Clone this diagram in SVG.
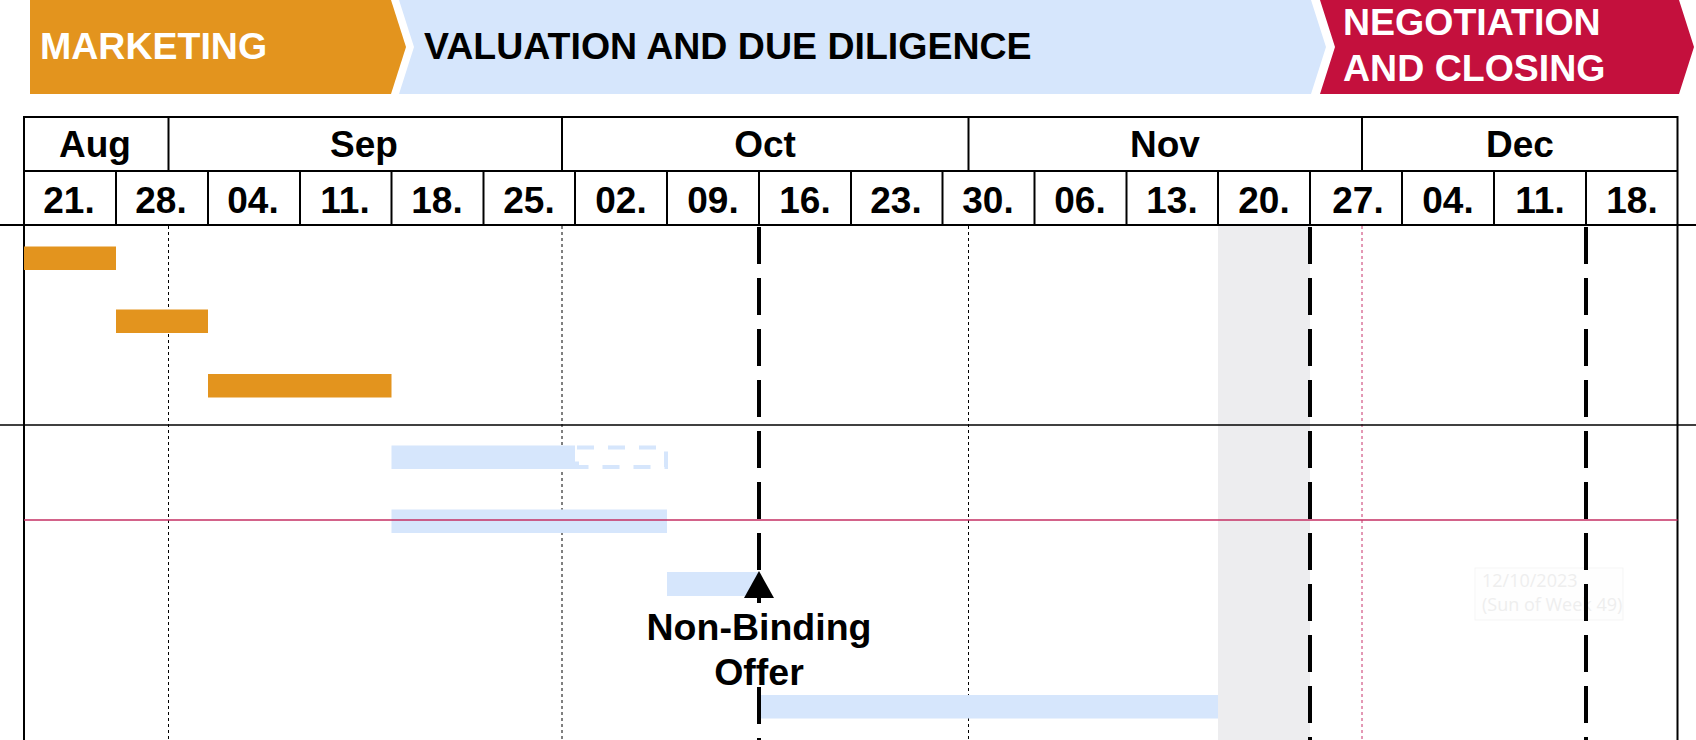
<svg xmlns="http://www.w3.org/2000/svg" width="1696" height="740" viewBox="0 0 1696 740">
<style>
.ph{font-family:"Liberation Sans",Arial,sans-serif;font-weight:bold;font-size:37.5px}
.hd{font-family:"Liberation Sans",Arial,sans-serif;font-weight:bold;font-size:37px;text-anchor:middle;fill:#000}
.lb{font-family:"Liberation Sans",Arial,sans-serif;font-weight:bold;font-size:37.5px;text-anchor:middle;fill:#000}
.ln{stroke:#000;stroke-width:2;fill:none}
.thin{stroke:#000;stroke-width:1.5;fill:none}
.dot{stroke:#000;stroke-width:1;stroke-dasharray:3 3;fill:none}
.pdot{stroke:#C8336A;stroke-width:1;stroke-dasharray:3 3;fill:none}
.mile{stroke:#000;stroke-width:4;stroke-dasharray:37 14;fill:none}
.or{fill:#E3941E}
.bl{fill:#D6E6FC}
.tip{font-family:"Open Sans","Liberation Sans",sans-serif;font-size:18px;fill:#EEEEEE}
</style>
<rect width="1696" height="740" fill="#fff"/>

<!-- phases -->
<g id="phase-marketing">
<polygon class="or" points="30,0 391,0 406,47 391,94 30,94"/>
<text class="ph" x="40" y="59" fill="#fff">MARKETING</text>
</g>
<g id="phase-valuation">
<polygon class="bl" points="399,0 1311,0 1326,47 1311,94 399,94 414,47"/>
<text class="ph" x="424" y="59" fill="#000">VALUATION AND DUE DILIGENCE</text>
</g>
<g id="phase-negotiation">
<polygon fill="#C4103D" points="1320,0 1679,0 1694,47 1679,94 1320,94 1335,47"/>
<text class="ph" x="1343" y="35" fill="#fff">NEGOTIATION</text>
<text class="ph" x="1343" y="81" fill="#fff">AND CLOSING</text>
</g>

<!-- background highlight column -->
<rect id="highlight-week" x="1218" y="226" width="92" height="514" fill="#EDEDEF"/>

<!-- month boundary guides -->
<g id="guides">
<line class="dot" x1="168.5" y1="226" x2="168.5" y2="740"/>
<line class="dot" x1="562" y1="226" x2="562" y2="740"/>
<line class="dot" x1="968.5" y1="226" x2="968.5" y2="740"/>
<line class="pdot" x1="1362" y1="226" x2="1362" y2="740"/>
</g>

<!-- header table -->
<g id="header">
<line class="ln" x1="24" y1="117" x2="1677.5" y2="117"/>
<line class="ln" x1="24" y1="171" x2="1677.5" y2="171"/>
<line class="ln" x1="0" y1="225" x2="1696" y2="225"/>
<line class="ln" x1="24" y1="116" x2="24" y2="740"/>
<line class="ln" x1="1677.5" y1="116" x2="1677.5" y2="740"/>
<line class="ln" x1="168.5" y1="117" x2="168.5" y2="171"/>
<line class="ln" x1="562" y1="117" x2="562" y2="171"/>
<line class="ln" x1="968.5" y1="117" x2="968.5" y2="171"/>
<line class="ln" x1="1362" y1="117" x2="1362" y2="171"/>
<text class="hd" x="95" y="157">Aug</text>
<text class="hd" x="364" y="157">Sep</text>
<text class="hd" x="765" y="157">Oct</text>
<text class="hd" x="1165" y="157">Nov</text>
<text class="hd" x="1520" y="157">Dec</text>
<g class="ln">
<line x1="116" y1="171" x2="116" y2="225"/>
<line x1="208" y1="171" x2="208" y2="225"/>
<line x1="300" y1="171" x2="300" y2="225"/>
<line x1="391.5" y1="171" x2="391.5" y2="225"/>
<line x1="483.5" y1="171" x2="483.5" y2="225"/>
<line x1="575" y1="171" x2="575" y2="225"/>
<line x1="667" y1="171" x2="667" y2="225"/>
<line x1="759" y1="171" x2="759" y2="225"/>
<line x1="851" y1="171" x2="851" y2="225"/>
<line x1="942.5" y1="171" x2="942.5" y2="225"/>
<line x1="1034.5" y1="171" x2="1034.5" y2="225"/>
<line x1="1126.5" y1="171" x2="1126.5" y2="225"/>
<line x1="1218" y1="171" x2="1218" y2="225"/>
<line x1="1310" y1="171" x2="1310" y2="225"/>
<line x1="1402" y1="171" x2="1402" y2="225"/>
<line x1="1494" y1="171" x2="1494" y2="225"/>
<line x1="1586" y1="171" x2="1586" y2="225"/>
</g>
<text class="hd" x="69" y="213">21.</text>
<text class="hd" x="161" y="213">28.</text>
<text class="hd" x="253" y="213">04.</text>
<text class="hd" x="345" y="213">11.</text>
<text class="hd" x="437" y="213">18.</text>
<text class="hd" x="529" y="213">25.</text>
<text class="hd" x="621" y="213">02.</text>
<text class="hd" x="713" y="213">09.</text>
<text class="hd" x="805" y="213">16.</text>
<text class="hd" x="896" y="213">23.</text>
<text class="hd" x="988" y="213">30.</text>
<text class="hd" x="1080" y="213">06.</text>
<text class="hd" x="1172" y="213">13.</text>
<text class="hd" x="1264" y="213">20.</text>
<text class="hd" x="1358" y="213">27.</text>
<text class="hd" x="1448" y="213">04.</text>
<text class="hd" x="1540" y="213">11.</text>
<text class="hd" x="1632" y="213">18.</text>
<text class="hd" x="1722" y="213">25.</text>
</g>

<!-- section separators -->
<line id="section-line" class="thin" x1="0" y1="425" x2="1696" y2="425"/>

<!-- tasks -->
<g id="task-1"><rect class="or" x="24" y="246.5" width="92" height="23.5"/></g>
<g id="task-2"><rect class="or" x="116" y="309.5" width="92" height="23.5"/></g>
<g id="task-3"><rect class="or" x="208" y="374" width="183.5" height="23.5"/></g>
<g id="task-4">
<rect class="bl" x="391.5" y="445.5" width="183.5" height="23.5"/>
<rect x="577" y="447.5" width="89" height="19.5" fill="none" stroke="#D6E6FC" stroke-width="4" stroke-dasharray="17 14"/>
</g>
<g id="task-5"><rect class="bl" x="391.5" y="509.5" width="275.5" height="23.5"/></g>
<g id="task-6"><rect class="bl" x="667" y="572" width="92" height="24"/></g>
<g id="task-7"><rect class="bl" x="759" y="695" width="459" height="23.5"/></g>

<!-- tooltip ghost -->
<g id="tooltip">
<rect x="1475" y="568" width="148" height="52" fill="#FEFEFE" stroke="#F5F5F5" stroke-width="1"/>
<text class="tip" x="1482" y="587">12/10/2023</text>
<text class="tip" x="1482" y="611">(Sun of Week 49)</text>
</g>

<!-- milestone lines -->
<g id="connectors">
<line class="mile" x1="759" y1="227" x2="759" y2="572"/>
<line class="mile" x1="759" y1="687" x2="759" y2="740"/>
<line class="mile" x1="1310" y1="227" x2="1310" y2="740"/>
<line class="mile" x1="1586" y1="227" x2="1586" y2="740"/>
<line x1="24" y1="520" x2="1677.5" y2="520" stroke="#C42F63" stroke-width="1.3"/>
</g>

<g id="milestone-non-binding-offer">
<polygon points="759,571 744,598 774,598" fill="#000"/>
<rect x="757" y="597" width="4" height="6" fill="#000"/>
<text class="lb" x="759" y="640">Non-Binding</text>
<text class="lb" x="759" y="684.5">Offer</text>
</g>
</svg>
